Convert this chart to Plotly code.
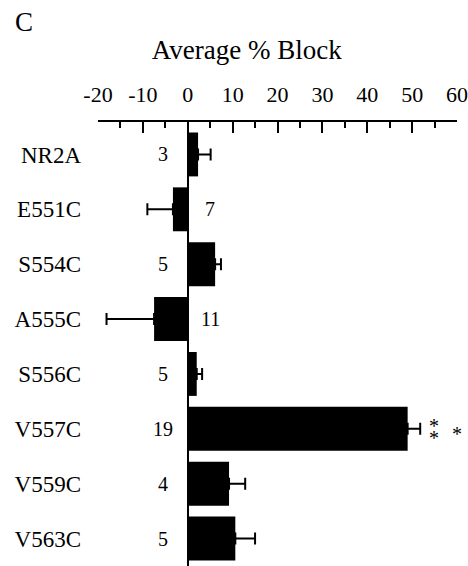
import plotly.graph_objects as go

constructs = ["NR2A", "E551C", "S554C", "A555C", "S556C", "V557C", "V559C", "V563C"]
block = [2.3, -3.3, 6.1, -7.5, 2.0, 49.0, 9.2, 10.6]
sem = [2.8, 5.7, 1.3, 10.6, 1.2, 2.8, 3.6, 4.4]
n_cells = [3, 7, 5, 11, 5, 19, 4, 5]
x_ticks = [-20, -10, 0, 10, 20, 30, 40, 50, 60]
x_tick_text = [str(v) for v in x_ticks]
signif = {"V557C": "**"}

FONT = "Liberation Serif"

err_plus = [e if v >= 0 else 0 for v, e in zip(block, sem)]
err_minus = [e if v < 0 else 0 for v, e in zip(block, sem)]

fig = go.Figure()
fig.add_trace(go.Bar(
    y=constructs, x=block, orientation="h",
    marker=dict(color="black", line=dict(width=0)),
    error_x=dict(type="data", symmetric=False, array=err_plus, arrayminus=err_minus,
                 color="black", thickness=2, width=6),
    showlegend=False, hoverinfo="skip",
))

annotations = []
for c, v, n in zip(constructs, block, n_cells):
    annotations.append(dict(
        x=-5.5 if v >= 0 else 5.0, y=c, xref="x", yref="y", text=str(n),
        showarrow=False, font=dict(family=FONT, size=20, color="black"),
        xanchor="center", yanchor="middle"))

star_font = dict(family=FONT, size=20, color="black")
for c, v, e in zip(constructs, block, sem):
    if c in signif:
        end = v + e
        for xs, ys in [(14, 3), (14, -9), (37, -5)]:
            annotations.append(dict(x=end, y=c, xref="x", yref="y", text="*",
                                    showarrow=False, xanchor="center", yanchor="middle",
                                    xshift=xs, yshift=ys, font=star_font))

annotations.append(dict(x=-0.238, y=1.223, xref="paper", yref="paper", text="C",
                        showarrow=False, xanchor="left", yanchor="middle",
                        font=dict(family=FONT, size=27, color="black")))

W, H = 468, 566
fig.update_layout(
    width=W, height=H,
    margin=dict(l=98, r=11, t=121, b=0, autoexpand=False),
    plot_bgcolor="white", paper_bgcolor="white",
    bargap=0.2,
    font=dict(family=FONT, color="black"),
    title=dict(text="Average % Block", x=246.7 / W, xanchor="center",
               y=1 - 50 / H, yanchor="middle", yref="container",
               font=dict(family=FONT, size=27, color="black")),
    xaxis=dict(
        range=[-20, 60], side="top", anchor="free", position=1, automargin=False,
        tickmode="array", tickvals=x_ticks, ticktext=x_tick_text,
        ticks="inside", ticklen=11, tickwidth=2, tickcolor="black",
        minor=dict(ticks="inside", ticklen=6, tickwidth=2, tickcolor="black", dtick=5),
        showline=True, linecolor="black", linewidth=2,
        showgrid=False, zeroline=True, zerolinecolor="black", zerolinewidth=2,
        tickfont=dict(family=FONT, size=22, color="black"),
        ticklabelstandoff=9,
    ),
    yaxis=dict(
        type="category", categoryorder="array", categoryarray=constructs,
        range=[7.5, -0.5], domain=[0, 0.9865], automargin=False,
        showline=False, showgrid=False, zeroline=False, ticks="",
        tickfont=dict(family=FONT, size=23, color="black"),
        ticklabelstandoff=16,
    ),
    annotations=annotations,
)

fig.write_html("out.html", config={"displayModeBar": False},
               post_script="document.body.style.margin='0';document.body.style.overflow='hidden';")
